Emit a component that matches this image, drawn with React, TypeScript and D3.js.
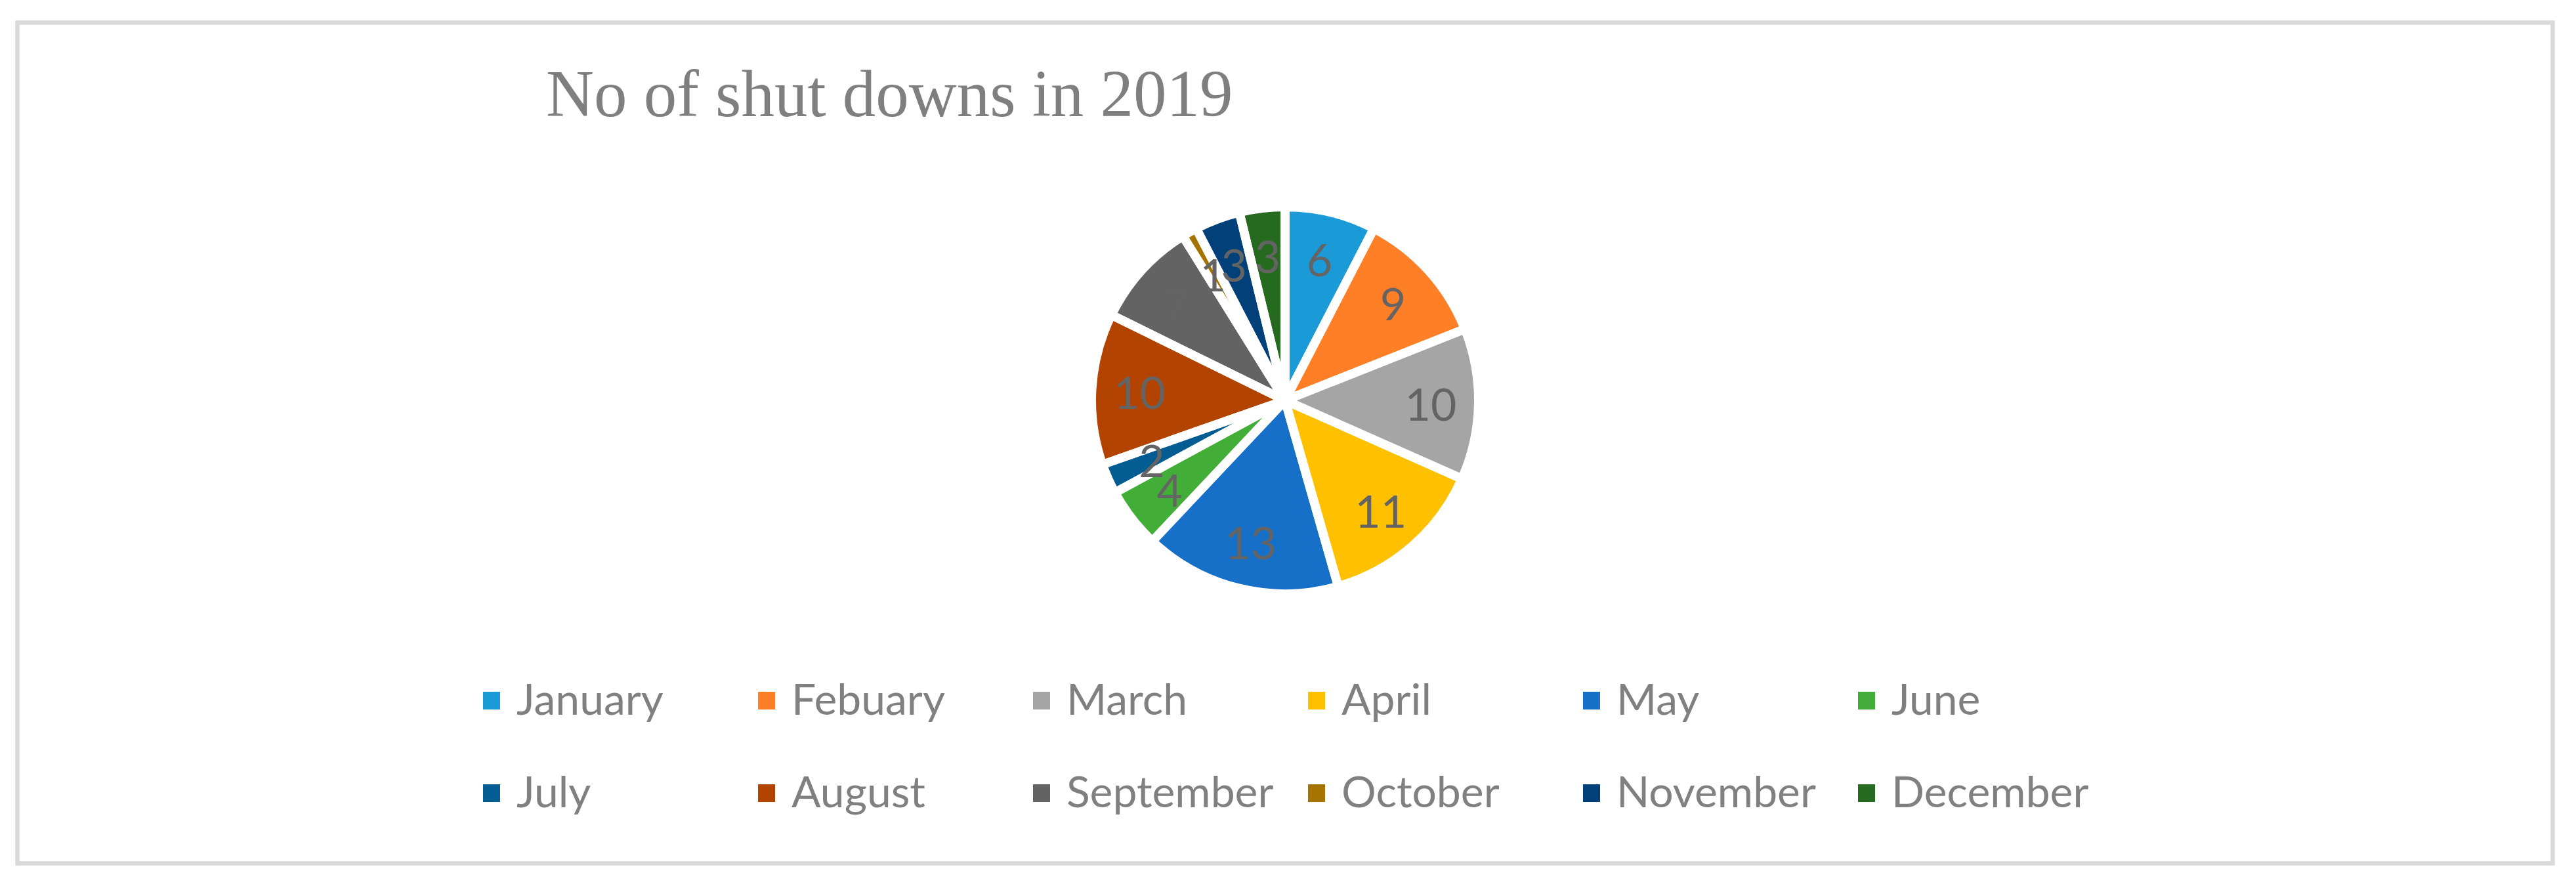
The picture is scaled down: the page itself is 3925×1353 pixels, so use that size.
import React from "react";
import * as d3 from "d3";

const months = ["January", "Febuary", "March", "April", "May", "June", "July", "August", "September", "October", "November", "December"];
const shutdowns = [6, 9, 10, 11, 13, 4, 2, 10, 7, 1, 3, 3];
const colors = ["#1A9BD7", "#FF7F27", "#A5A5A5", "#FFC000", "#1670C8", "#42AE38", "#045D92", "#B34300", "#636363", "#A47300", "#02407A", "#256A1F"];
const title = "No of shut downs in 2019";

const W = 3925;
const H = 1353;

export default function App() {
  const cx = 1958;
  const cy = 610;
  const gap = 13.5;
  const R = 288 + gap / 2;
  const labelR = 222;

  const data = months.map((m, i) => ({ month: m, value: shutdowns[i], color: colors[i] }));
  const pie = d3.pie<any>().sort(null).value((d: any) => d.value);
  const arcs = pie(data);
  const arcGen = d3.arc<any>().innerRadius(0).outerRadius(R);
  const labelArc = d3.arc<any>().innerRadius(labelR).outerRadius(labelR);

  const legendX = d3.scaleLinear().domain([0, 1]).range([736, 736 + 419]);
  const legendY = d3.scaleLinear().domain([0, 1]).range([1054, 1195]);
  const perRow = 6;

  return (
    <div style={{ position: "absolute", left: 0, top: 0 }}>
      <svg width={W} height={H} viewBox={`0 0 ${W} ${H}`} style={{ display: "block", background: "#fff" }}>
        <rect x={0} y={0} width={W} height={H} fill="#ffffff" />
        <rect x={26.5} y={34.5} width={3889.5 - 26.5} height={1315.5 - 34.5} fill="none" stroke="#D9D9D9" strokeWidth={6.5} />
        <text x={832} y={177} fontFamily="'Liberation Serif', 'Times New Roman', serif" fontSize={101} fill="#7F7F7F">
          {title}
        </text>
        <g transform={`translate(${cx},${cy})`}>
          {arcs.map((a, i) => (
            <path key={"f" + i} d={arcGen(a) as string} fill={a.data.color} />
          ))}
          {arcs.map((a, i) => (
            <path key={"s" + i} d={arcGen(a) as string} fill="none" stroke="#ffffff" strokeWidth={gap} strokeLinejoin="round" />
          ))}
          {arcs.map((a, i) => {
            const [x, y] = labelArc.centroid(a);
            return (
              <text
                key={"l" + i}
                x={x}
                y={y}
                textAnchor="middle"
                dominantBaseline="central"
                fontFamily="Lato, 'Open Sans', sans-serif"
                fontSize={68}
                fill="#646464"
              >
                {a.data.value}
              </text>
            );
          })}
        </g>
        <g>
          {data.map((d, i) => {
            const col = i % perRow;
            const row = Math.floor(i / perRow);
            const x = legendX(col);
            const y = legendY(row);
            return (
              <g key={"lg" + i}>
                <rect x={x} y={y} width={26} height={27} fill={d.color} />
                <text x={x + 51} y={y + 35} fontFamily="Lato, 'Open Sans', sans-serif" fontSize={66} fill="#808080">
                  {d.month}
                </text>
              </g>
            );
          })}
        </g>
      </svg>
    </div>
  );
}
